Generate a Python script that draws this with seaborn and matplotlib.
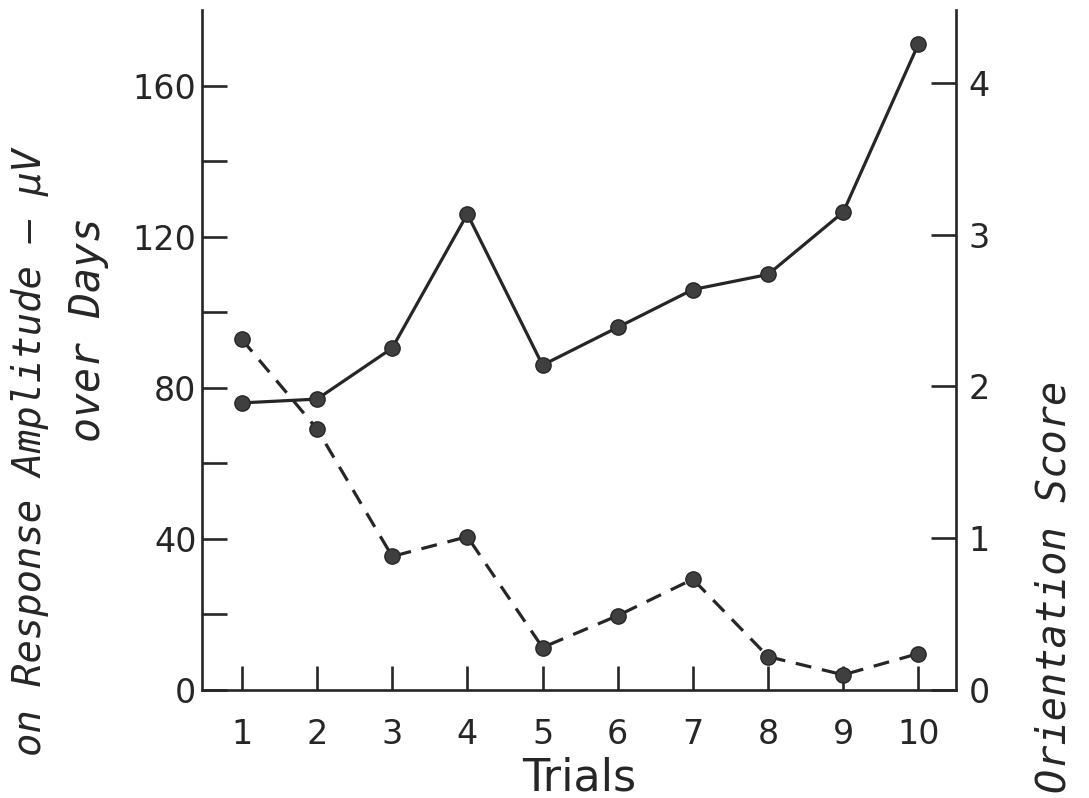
import matplotlib
matplotlib.use("Agg")
import matplotlib.pyplot as plt
from matplotlib.ticker import FixedLocator
import seaborn as sns
import pandas as pd

# Trial numbers and the two measured series
trials = [1, 2, 3, 4, 5, 6, 7, 8, 9, 10]
response_amplitude = [76, 77, 90.5, 126, 86, 96, 106, 110, 126.5, 171]   # µV, left axis
orientation_score = [2.31, 1.72, 0.88, 1.01, 0.28, 0.49, 0.73, 0.22, 0.10, 0.24]  # right axis

left_ticks = [0, 40, 80, 120, 160]
left_minor = [20, 60, 100, 140]
right_ticks = [0, 1, 2, 3, 4]

df = pd.DataFrame({"trial": trials, "amp": response_amplitude, "score": orientation_score})

sns.set_theme(style="white")
plt.rcParams["font.family"] = ["DejaVu Sans"]

ink = "#262626"
dot = "#3f3f3f"

fig = plt.figure(figsize=(10.89, 7.98), dpi=100)
ax = fig.add_axes([202 / 1089, 1 - 690 / 798, (956 - 202) / 1089, (690 - 10) / 798])
ax2 = ax.twinx()

sns.lineplot(data=df, x="trial", y="amp", ax=ax, color=ink, linewidth=2.3,
             marker="o", markersize=11, markerfacecolor=dot, markeredgecolor=ink,
             markeredgewidth=1.0)
sns.lineplot(data=df, x="trial", y="score", ax=ax2, color=ink, linewidth=2.3,
             linestyle=(0, (5, 3.4)), marker="o", markersize=11,
             markerfacecolor=dot, markeredgecolor=ink, markeredgewidth=1.0)

ax.set_xlim(0.47, 10.5)
ax.set_ylim(0, 180)
ax2.set_ylim(0, 4.48)

for a in (ax, ax2):
    a.set_facecolor("none")
    a.spines["top"].set_visible(False)
    for s in ("left", "right", "bottom"):
        a.spines[s].set_color(ink)
        a.spines[s].set_linewidth(1.9)
    a.set_xlabel("")
    a.set_ylabel("")
ax.spines["right"].set_visible(False)
ax2.spines["left"].set_visible(False)
ax2.spines["bottom"].set_visible(False)

ax.set_xticks(trials)
ax.set_xticklabels([str(t) for t in trials])
ax.yaxis.set_major_locator(FixedLocator(left_ticks))
ax.yaxis.set_minor_locator(FixedLocator(left_minor))
ax2.yaxis.set_major_locator(FixedLocator(right_ticks))

ax.tick_params(axis="x", which="major", direction="in", length=17, width=1.9,
               color=ink, pad=20, labelsize=24, labelcolor=ink, bottom=True)
ax.tick_params(axis="y", which="both", direction="in", length=18, width=1.9,
               color=ink, pad=4, labelsize=24, labelcolor=ink, left=True)
ax2.tick_params(axis="y", which="major", direction="in", length=18, width=1.9,
                color=ink, pad=9, labelsize=24, labelcolor=ink, right=True)
ax2.tick_params(axis="y", which="minor", right=False)

# Axis titles in a lettering-guide style
ax.set_xlabel("Trials", fontsize=32, color=ink, labelpad=4)

label_font = dict(family="DejaVu Sans Mono", style="italic", color=ink)
fig.text(30 / 1089, 1 - 148 / 798, "on Response Amplitude – μV",
         rotation=90, rotation_mode="anchor", ha="right", va="center",
         fontsize=28, **label_font)
fig.text(88 / 1089, 1 - 330 / 798, "over Days", rotation=90,
         rotation_mode="anchor", ha="center", va="center", fontsize=30, **label_font)
fig.text(1054 / 1089, 1 - 587 / 798, "Orientation Score", rotation=90,
         rotation_mode="anchor", ha="center", va="center", fontsize=29, **label_font)

fig.savefig("out.png", dpi=100, facecolor="white")
